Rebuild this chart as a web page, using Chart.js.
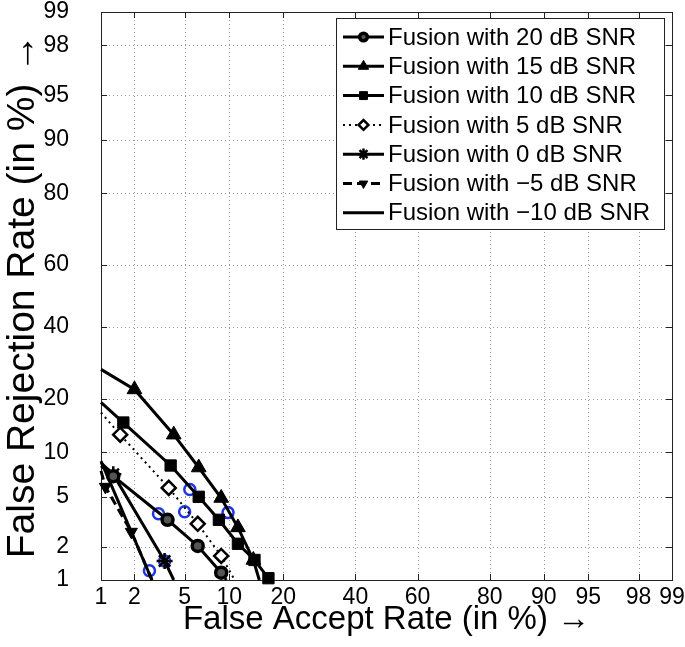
<!DOCTYPE html>
<html>
<head>
<title>DET curves - fusion at different SNR</title>
<script src="https://cdn.jsdelivr.net/npm/chart.js"></script>
<style>
  body { margin: 0; background: #fff; }
  canvas { display: block; }
</style>
</head>
<body>
<canvas id="det" width="685" height="647"></canvas>
<script>
// tick positions (in %) used on both normal-deviate axes
const tickPercents = [1, 2, 5, 10, 20, 40, 60, 80, 90, 95, 98, 99];

const seriesLabels = [
    'Fusion with 20 dB SNR',
    'Fusion with 15 dB SNR',
    'Fusion with 10 dB SNR',
    'Fusion with 5 dB SNR',
    'Fusion with 0 dB SNR',
    'Fusion with \u22125 dB SNR',
    'Fusion with \u221210 dB SNR'
];

// false accept / false rejection rates in %
// (first and last point are where the curve meets the frame)
const far20 = [1.0, 1.3, 3.72, 6.2, 8.9, 9.6];
const frr20 = [8.2, 7.0, 3.34, 2.03, 1.17, 1.0];
const far15 = [1.0, 2.0, 4.15, 6.3, 8.9, 11.3, 13.9, 15.0];
const frr15 = [27.4, 22.2, 12.8, 8.0, 4.9, 2.9, 1.53, 1.0];
const far10 = [1.0, 1.6, 3.93, 6.3, 8.6, 11.3, 14.1, 16.8, 17.0];
const frr10 = [19.2, 15.0, 8.25, 5.0, 3.34, 2.12, 1.53, 1.04, 1.0];
const far5 = [1.0, 1.5, 3.8, 6.2, 8.9, 10.8];
const frr5 = [17.0, 12.8, 5.8, 3.1, 1.66, 1.0];
const far0 = [1.0, 1.3, 3.53, 4.15];
const frr0 = [8.6, 7.2, 1.5, 1.0];
const farM5 = [1.0, 1.1, 1.88, 2.8];
const frrM5 = [7.6, 5.9, 2.67, 1.0];
const farM10 = [1.0, 2.8];
const frrM10 = [8.8, 1.0];

// operating points marked with blue circles
const farOp = [3.16, 9.83, 5.45, 5.0, 3.53, 2.67];
const frrOp = [3.72, 3.8, 5.64, 3.86, 1.5, 1.22];

// inverse normal CDF (Acklam)
function probit(p) {
    const a = [-3.969683028665376e+01, 2.209460984245205e+02, -2.759285104469687e+02, 1.383577518672690e+02, -3.066479806614716e+01, 2.506628277459239e+00];
    const b = [-5.447609879822406e+01, 1.615858368580409e+02, -1.556989798598866e+02, 6.680131188771972e+01, -1.328068155288572e+01];
    const c = [-7.784894002430293e-03, -3.223964580411365e-01, -2.400758277161838e+00, -2.549732539343734e+00, 4.374664141464968e+00, 2.938163982698783e+00];
    const d = [7.784695709041462e-03, 3.224671290700398e-01, 2.445134137142996e+00, 3.754408661907416e+00];
    const pl = 0.02425;
    let q, r;
    if (p < pl) {
        q = Math.sqrt(-2 * Math.log(p));
        return (((((c[0]*q+c[1])*q+c[2])*q+c[3])*q+c[4])*q+c[5]) / ((((d[0]*q+d[1])*q+d[2])*q+d[3])*q+1);
    }
    if (p > 1 - pl) {
        q = Math.sqrt(-2 * Math.log(1 - p));
        return -(((((c[0]*q+c[1])*q+c[2])*q+c[3])*q+c[4])*q+c[5]) / ((((d[0]*q+d[1])*q+d[2])*q+d[3])*q+1);
    }
    q = p - 0.5; r = q * q;
    return (((((a[0]*r+a[1])*r+a[2])*r+a[3])*r+a[4])*r+a[5])*q / (((((b[0]*r+b[1])*r+b[2])*r+b[3])*r+b[4])*r+1);
}

const toPoints = (far, frr) => far.map((v, i) => ({x: probit(v / 100), y: probit(frr[i] / 100)}));

// no marker on the frame end points
const innerRadius = r => ctx => {
    const n = ctx.dataset.data.length;
    return (ctx.dataIndex === 0 || ctx.dataIndex === n - 1) ? 0 : r;
};

const FONT = '"Liberation Sans", Helvetica, Arial, sans-serif';

function curve(label, far, frr, style) {
    return Object.assign({
        label: label,
        data: toPoints(far, frr),
        showLine: true,
        borderColor: 'black',
        borderWidth: 3,
        pointBorderColor: 'black',
        pointBackgroundColor: 'black',
        pointBorderWidth: 1,
        pointRadius: 0,
        tension: 0,
        clip: false
    }, style);
}

const datasets = [
    curve(seriesLabels[0], far20, frr20, {pointStyle: 'circle', pointRadius: innerRadius(5.5), pointBackgroundColor: '#555', pointBorderWidth: 3.5}),
    curve(seriesLabels[1], far15, frr15, {pointStyle: 'triangle', pointRadius: innerRadius(8.5)}),
    curve(seriesLabels[2], far10, frr10, {pointStyle: 'rect', pointRadius: innerRadius(8)}),
    curve(seriesLabels[3], far5, frr5, {pointStyle: 'rectRot', pointRadius: innerRadius(7), pointBackgroundColor: 'white', pointBorderWidth: 2.5, borderWidth: 2, borderDash: [2, 4]}),
    curve(seriesLabels[4], far0, frr0, {pointStyle: 'star', pointRadius: innerRadius(8), pointBorderWidth: 2.5}),
    curve(seriesLabels[5], farM5, frrM5, {pointStyle: 'triangle', pointRotation: 180, pointRadius: innerRadius(7), borderDash: [9, 5]}),
    curve(seriesLabels[6], farM10, frrM10, {}),
    {
        label: 'operating points',
        data: toPoints(farOp, frrOp),
        showLine: false,
        pointStyle: 'circle',
        pointRadius: 5.5,
        pointBorderWidth: 2.5,
        pointBorderColor: '#1f35e0',
        pointBackgroundColor: 'rgba(0,0,0,0)',
        clip: false
    }
];

const pMin = probit(0.01), pMax = probit(0.99);

function axis(titleText, titleSize, fitKey, fitVal, titlePad, tickPad) {
    return {
        type: 'linear',
        min: pMin,
        max: pMax,
        afterBuildTicks: scale => { scale.ticks = tickPercents.map(p => ({value: probit(p / 100)})); },
        afterFit: scale => {
            scale[fitKey] = fitVal;
            scale.paddingTop = 0; scale.paddingBottom = 0;
            scale.paddingLeft = 0; scale.paddingRight = 0;
        },
        ticks: {
            autoSkip: false,
            maxRotation: 0,
            padding: tickPad,
            color: 'black',
            font: {family: FONT, size: 23},
            callback: (v, i) => tickPercents[i]
        },
        grid: {display: false, drawTicks: false},
        border: {display: false},
        title: {
            display: true,
            text: titleText,
            color: 'black',
            font: {family: FONT, size: titleSize},
            padding: titlePad
        }
    };
}

// dotted grid, box and inward tick marks, matlab style
const frame = {
    id: 'frame',
    beforeDatasetsDraw(chart) {
        const {ctx, chartArea: {left, right, top, bottom}, scales: {x, y}} = chart;
        ctx.save();
        ctx.strokeStyle = '#9a9a9a';
        ctx.lineWidth = 1;
        ctx.setLineDash([1, 3]);
        x.ticks.forEach(t => {
            const px = Math.round(x.getPixelForValue(t.value)) + 0.5;
            ctx.beginPath(); ctx.moveTo(px, top); ctx.lineTo(px, bottom); ctx.stroke();
        });
        y.ticks.forEach(t => {
            const py = Math.round(y.getPixelForValue(t.value)) + 0.5;
            ctx.beginPath(); ctx.moveTo(left, py); ctx.lineTo(right, py); ctx.stroke();
        });
        ctx.setLineDash([]);
        ctx.strokeStyle = '#222';
        const tl = 6;
        x.ticks.forEach(t => {
            const px = Math.round(x.getPixelForValue(t.value)) + 0.5;
            ctx.beginPath();
            ctx.moveTo(px, bottom); ctx.lineTo(px, bottom - tl);
            ctx.moveTo(px, top); ctx.lineTo(px, top + tl);
            ctx.stroke();
        });
        y.ticks.forEach(t => {
            const py = Math.round(y.getPixelForValue(t.value)) + 0.5;
            ctx.beginPath();
            ctx.moveTo(left, py); ctx.lineTo(left + tl, py);
            ctx.moveTo(right, py); ctx.lineTo(right - tl, py);
            ctx.stroke();
        });
        ctx.strokeRect(Math.round(left) + 0.5, Math.round(top) + 0.5, Math.round(right - left), Math.round(bottom - top));
        ctx.restore();
    }
};

// boxed legend in the upper right corner with line + marker samples
const boxLegend = {
    id: 'boxLegend',
    afterDraw(chart) {
        const ctx = chart.ctx;
        const bx = 336, by = 18, bw = 328, bh = 211;
        const rowH = 29.3, firstRow = by + 19;
        ctx.save();
        ctx.fillStyle = 'white';
        ctx.fillRect(bx, by, bw, bh);
        ctx.strokeStyle = '#222';
        ctx.lineWidth = 1;
        ctx.strokeRect(bx + 0.5, by + 0.5, bw, bh);
        ctx.font = '24px ' + FONT;
        ctx.textBaseline = 'middle';
        chart.data.datasets.slice(0, 7).forEach((ds, i) => {
            const cy = firstRow + i * rowH;
            ctx.strokeStyle = ds.borderColor;
            ctx.lineWidth = ds.borderWidth;
            ctx.setLineDash(ds.borderDash || []);
            ctx.beginPath(); ctx.moveTo(343, cy); ctx.lineTo(384, cy); ctx.stroke();
            ctx.setLineDash([]);
            if (ds.pointStyle) {
                const r = typeof ds.pointRadius === 'function' ? ds.pointRadius({dataIndex: 1, dataset: ds}) : ds.pointRadius;
                ctx.fillStyle = ds.pointBackgroundColor;
                ctx.strokeStyle = ds.pointBorderColor;
                ctx.lineWidth = ds.pointBorderWidth;
                Chart.helpers.drawPoint(ctx, {
                    pointStyle: ds.pointStyle,
                    rotation: ds.pointRotation || 0,
                    radius: r * 0.7,
                    borderWidth: ds.pointBorderWidth
                }, 363.5, cy);
            }
            ctx.fillStyle = 'black';
            ctx.fillText(ds.label, 388, cy + 1);
        });
        ctx.restore();
    }
};

new Chart(document.getElementById('det'), {
    type: 'scatter',
    data: {datasets: datasets},
    options: {
        responsive: false,
        animation: false,
        devicePixelRatio: 1,
        layout: {padding: {top: 12, right: 13, left: 0, bottom: 0}},
        plugins: {
            legend: {display: false},
            tooltip: {enabled: false}
        },
        scales: {
            x: axis('False Accept Rate (in %) \u2192', 33, 'height', 67, {top: 7, bottom: 7}, 4),
            y: axis('False Rejection Rate (in %) \u2192', 39, 'width', 101, {top: 0, bottom: 0}, 32)
        }
    },
    plugins: [frame, boxLegend]
});
</script>
</body>
</html>
